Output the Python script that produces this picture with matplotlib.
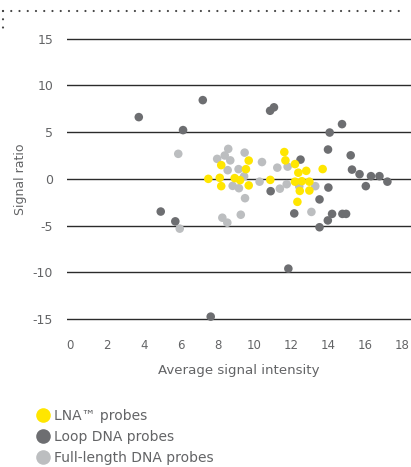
import matplotlib
matplotlib.use('Agg')
import matplotlib.pyplot as plt
from matplotlib.lines import Line2D

plt.rcParams['font.family'] = ['DejaVu Sans']
plt.rcParams['axes.unicode_minus'] = False

# ____________________________ Datos ____________________________

lna_x = [8.20, 7.50, 8.12, 8.93, 8.20, 9.69, 9.54, 9.22, 9.69, 11.62, 11.68,
         12.20, 12.38, 12.81, 13.70, 10.86, 12.20, 12.57, 12.98, 12.46, 12.98, 12.33]
lna_y = [1.47, 0.00, 0.11, 0.08, -0.78, 1.96, 1.04, -0.14, -0.70, 2.87, 1.98,
         1.58, 0.66, 0.86, 1.05, -0.11, -0.30, -0.25, -0.30, -1.29, -1.25, -2.46]

loop_x = [3.73, 7.20, 6.13, 4.92, 5.71, 7.63, 10.85, 11.06, 14.75, 14.08, 13.99,
          15.22, 12.50, 15.29, 15.70, 16.32, 16.78, 17.21, 16.04, 14.01, 13.53,
          10.88, 12.16, 14.21, 14.77, 14.97, 13.98, 13.53, 11.84]
loop_y = [6.61, 8.43, 5.22, -3.50, -4.55, -14.75, 7.29, 7.66, 5.86, 4.96, 3.14,
          2.52, 2.06, 0.99, 0.50, 0.29, 0.29, -0.30, -0.78, -0.93, -2.20,
          -1.32, -3.70, -3.75, -3.75, -3.75, -4.45, -5.18, -9.61]

full_x = [5.87, 8.58, 7.98, 8.39, 8.69, 8.55, 9.14, 8.82, 9.16, 5.95, 8.26,
          8.53, 9.26, 9.47, 9.44, 9.49, 10.41, 11.24, 11.80, 10.28, 11.38,
          11.75, 12.43, 13.30, 13.09]
full_y = [2.68, 3.21, 2.14, 2.50, 1.98, 0.93, 1.04, -0.75, -1.00, -5.33, -4.16,
          -4.69, -3.84, 2.81, 0.27, -2.07, 1.80, 1.20, 1.31, -0.30, -1.05,
          -0.57, -0.80, -0.78, -3.54]

x_ticks = [0, 2, 4, 6, 8, 10, 12, 14, 16, 18]
y_ticks = [15, 10, 5, 0, -5, -10, -15]
labels = ['LNA™ probes', 'Loop DNA probes', 'Full-length DNA probes']

# ____________________________ Grafica ____________________________

c_lna = '#ffe600'
c_loop = '#6d6e71'
c_full = '#bcbec0'
c_text = '#636466'

fig = plt.figure(figsize=(4.11, 4.67), dpi=100)
ax = fig.add_axes([0.163, 0.301, 0.837, 0.632])

for y in y_ticks:
    ax.axhline(y, color='#2b2b2b', lw=1.0, zorder=1)

ax.scatter(full_x, full_y, s=38, color=c_full, edgecolors='none', zorder=3, label=labels[2])
ax.scatter(loop_x, loop_y, s=38, color=c_loop, edgecolors='none', zorder=3, label=labels[1])
ax.scatter(lna_x, lna_y, s=38, color=c_lna, edgecolors='none', zorder=4, label=labels[0])

ax.set_xlim(-0.163, 18.49)
ax.set_ylim(-15.8, 15.8)
ax.set_xticks(x_ticks)
ax.set_xticklabels([str(t) for t in x_ticks])
ax.set_yticks(y_ticks)
ax.set_yticklabels([str(t) for t in y_ticks])
ax.tick_params(length=0, labelcolor=c_text)
ax.tick_params(axis='x', pad=9, labelsize=8.5)
ax.tick_params(axis='y', pad=10, labelsize=9)
for s in ax.spines.values():
    s.set_visible(False)

ax.set_xlabel('Average signal intensity', fontsize=9.6, color=c_text, labelpad=9)
ax.set_ylabel('Signal ratio', fontsize=9, color=c_text, labelpad=4)

handles = [Line2D([], [], ls='none', marker='o', markersize=10.5, markeredgewidth=0, color=c)
           for c in [c_lna, c_loop, c_full]]
leg = fig.legend(handles, labels, loc='upper left', bbox_to_anchor=(0.068, 0.139),
                 frameon=False, fontsize=10, handletextpad=0.15, labelspacing=0.5,
                 borderpad=0, handlelength=1.2, labelcolor=c_text)

# marco punteado superior
fig.add_artist(Line2D([0.007, 0.985], [0.977, 0.977], transform=fig.transFigure,
                      color='#444444', lw=1.6, ls=(0, (0.01, 3.7)), dash_capstyle='round'))
fig.add_artist(Line2D([0.007, 0.007], [0.977, 0.925], transform=fig.transFigure,
                      color='#444444', lw=1.6, ls=(0, (0.01, 3.7)), dash_capstyle='round'))

fig.savefig('out.png', dpi=100)
